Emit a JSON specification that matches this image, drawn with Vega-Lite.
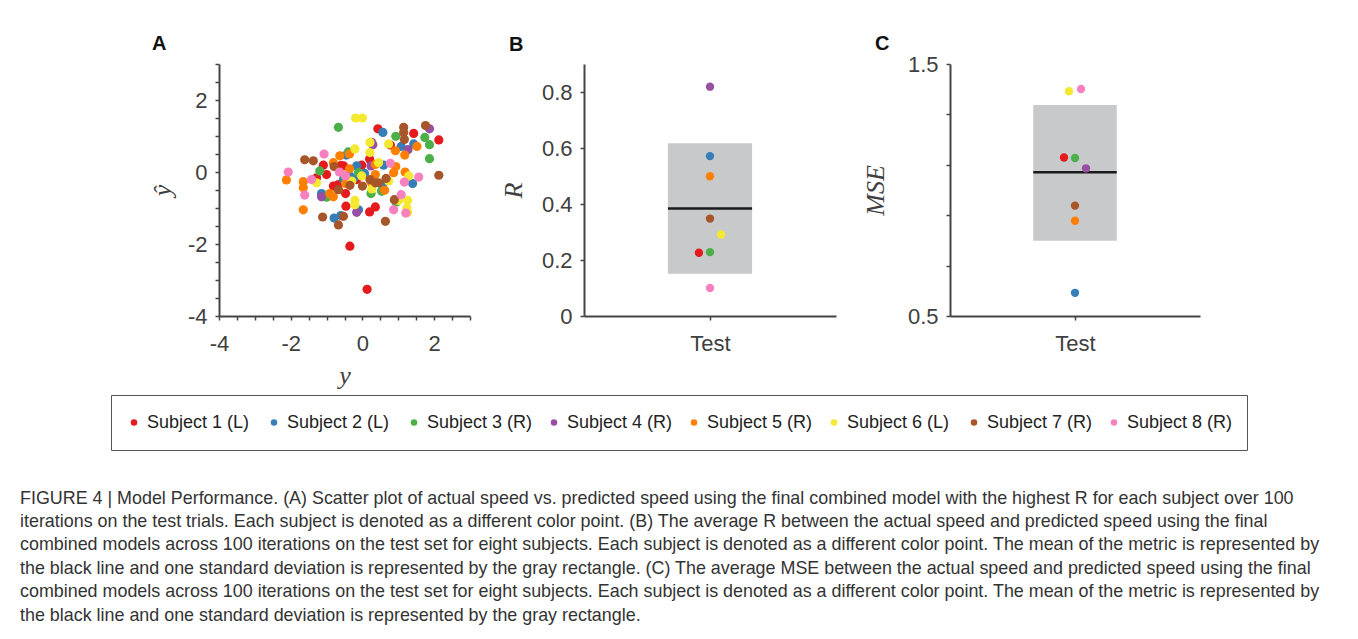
{
  "$schema": "https://vega.github.io/schema/vega-lite/v6.json",
  "background": "white",
  "padding": {"left": 20, "top": 34, "right": 20, "bottom": 10},
  "autosize": {"type": "pad"},
  "title": {
    "text": [
      "FIGURE 4 | Model Performance. (A) Scatter plot of actual speed vs. predicted speed using the final combined model with the highest R for each subject over 100",
      "iterations on the test trials. Each subject is denoted as a different color point. (B) The average R between the actual speed and predicted speed using the final",
      "combined models across 100 iterations on the test set for eight subjects. Each subject is denoted as a different color point. The mean of the metric is represented by",
      "the black line and one standard deviation is represented by the gray rectangle. (C) The average MSE between the actual speed and predicted speed using the final",
      "combined models across 100 iterations on the test set for eight subjects. Each subject is denoted as a different color point. The mean of the metric is represented by",
      "the black line and one standard deviation is represented by the gray rectangle."
    ],
    "orient": "bottom",
    "anchor": "start",
    "frame": "group",
    "dx": -199,
    "offset": 39,
    "font": "Liberation Sans",
    "fontSize": 17.9,
    "fontWeight": "normal",
    "color": "#333333",
    "lineHeight": 23.4,
    "baseline": "top"
  },
  "datasets": {
    "scatter": [
      {"subject": "Subject 1 (L)", "actual": 0.43, "predicted": 1.2},
      {"subject": "Subject 1 (L)", "actual": 1.43, "predicted": 1.07},
      {"subject": "Subject 1 (L)", "actual": 2.13, "predicted": 0.89},
      {"subject": "Subject 1 (L)", "actual": 0.78, "predicted": 0.75},
      {"subject": "Subject 1 (L)", "actual": 0.2, "predicted": 0.36},
      {"subject": "Subject 1 (L)", "actual": -0.02, "predicted": 0.19},
      {"subject": "Subject 1 (L)", "actual": -1.09, "predicted": 0.19},
      {"subject": "Subject 1 (L)", "actual": -0.53, "predicted": 0.17},
      {"subject": "Subject 1 (L)", "actual": -1.0, "predicted": -0.07},
      {"subject": "Subject 1 (L)", "actual": -1.28, "predicted": -0.16},
      {"subject": "Subject 1 (L)", "actual": -0.16, "predicted": -0.21},
      {"subject": "Subject 1 (L)", "actual": -0.81, "predicted": -0.39},
      {"subject": "Subject 1 (L)", "actual": -0.47, "predicted": -0.6},
      {"subject": "Subject 1 (L)", "actual": -0.46, "predicted": -0.95},
      {"subject": "Subject 1 (L)", "actual": 0.36, "predicted": -0.97},
      {"subject": "Subject 1 (L)", "actual": 0.2, "predicted": -1.11},
      {"subject": "Subject 1 (L)", "actual": -0.35, "predicted": -2.06},
      {"subject": "Subject 1 (L)", "actual": 0.13, "predicted": -3.26},
      {"subject": "Subject 1 (L)", "actual": -0.67, "predicted": -0.35},
      {"subject": "Subject 1 (L)", "actual": -0.6, "predicted": 0.18},
      {"subject": "Subject 2 (L)", "actual": 0.57, "predicted": 1.1},
      {"subject": "Subject 2 (L)", "actual": 1.08, "predicted": 0.71},
      {"subject": "Subject 2 (L)", "actual": 1.43, "predicted": 0.78},
      {"subject": "Subject 2 (L)", "actual": -0.45, "predicted": 0.47},
      {"subject": "Subject 2 (L)", "actual": -0.16, "predicted": 0.17},
      {"subject": "Subject 2 (L)", "actual": 0.59, "predicted": 0.19},
      {"subject": "Subject 2 (L)", "actual": 0.06, "predicted": -0.04},
      {"subject": "Subject 2 (L)", "actual": -0.35, "predicted": -0.11},
      {"subject": "Subject 2 (L)", "actual": -0.25, "predicted": -0.19},
      {"subject": "Subject 2 (L)", "actual": 0.56, "predicted": -0.35},
      {"subject": "Subject 2 (L)", "actual": 1.4, "predicted": -0.32},
      {"subject": "Subject 2 (L)", "actual": -1.14, "predicted": -0.6},
      {"subject": "Subject 2 (L)", "actual": -0.11, "predicted": -1.05},
      {"subject": "Subject 2 (L)", "actual": -0.79, "predicted": -1.28},
      {"subject": "Subject 2 (L)", "actual": -0.6, "predicted": -1.21},
      {"subject": "Subject 2 (L)", "actual": 0.54, "predicted": -0.53},
      {"subject": "Subject 2 (L)", "actual": -0.53, "predicted": -0.21},
      {"subject": "Subject 3 (R)", "actual": -0.67, "predicted": 1.24},
      {"subject": "Subject 3 (R)", "actual": 0.93, "predicted": 0.99},
      {"subject": "Subject 3 (R)", "actual": 1.74, "predicted": 0.96},
      {"subject": "Subject 3 (R)", "actual": 1.87, "predicted": 0.76},
      {"subject": "Subject 3 (R)", "actual": 1.87, "predicted": 0.37},
      {"subject": "Subject 3 (R)", "actual": -0.39, "predicted": 0.56},
      {"subject": "Subject 3 (R)", "actual": -1.19, "predicted": 0.03},
      {"subject": "Subject 3 (R)", "actual": 0.24, "predicted": -0.6},
      {"subject": "Subject 3 (R)", "actual": 0.54, "predicted": -0.53},
      {"subject": "Subject 3 (R)", "actual": 0.94, "predicted": -0.84},
      {"subject": "Subject 3 (R)", "actual": -1.0, "predicted": -0.7},
      {"subject": "Subject 3 (R)", "actual": -0.11, "predicted": -0.02},
      {"subject": "Subject 3 (R)", "actual": -0.49, "predicted": -0.11},
      {"subject": "Subject 4 (R)", "actual": 1.87, "predicted": 1.2},
      {"subject": "Subject 4 (R)", "actual": 0.29, "predicted": 0.76},
      {"subject": "Subject 4 (R)", "actual": 1.27, "predicted": 0.62},
      {"subject": "Subject 4 (R)", "actual": 0.24, "predicted": 0.17},
      {"subject": "Subject 4 (R)", "actual": -1.14, "predicted": -0.69},
      {"subject": "Subject 4 (R)", "actual": -0.16, "predicted": -1.12},
      {"subject": "Subject 4 (R)", "actual": 0.26, "predicted": 0.82},
      {"subject": "Subject 5 (R)", "actual": 1.52, "predicted": 0.71},
      {"subject": "Subject 5 (R)", "actual": 0.92, "predicted": 0.59},
      {"subject": "Subject 5 (R)", "actual": 1.18, "predicted": 0.47},
      {"subject": "Subject 5 (R)", "actual": -0.63, "predicted": 0.45},
      {"subject": "Subject 5 (R)", "actual": -0.36, "predicted": 0.5},
      {"subject": "Subject 5 (R)", "actual": -0.81, "predicted": 0.26},
      {"subject": "Subject 5 (R)", "actual": -0.36, "predicted": 0.09},
      {"subject": "Subject 5 (R)", "actual": 0.36, "predicted": 0.21},
      {"subject": "Subject 5 (R)", "actual": 0.93, "predicted": 0.15},
      {"subject": "Subject 5 (R)", "actual": 0.87, "predicted": -0.02},
      {"subject": "Subject 5 (R)", "actual": 1.19, "predicted": 0.0},
      {"subject": "Subject 5 (R)", "actual": 0.36, "predicted": -0.07},
      {"subject": "Subject 5 (R)", "actual": -1.65, "predicted": -0.27},
      {"subject": "Subject 5 (R)", "actual": -1.65, "predicted": -0.44},
      {"subject": "Subject 5 (R)", "actual": -2.12, "predicted": -0.22},
      {"subject": "Subject 5 (R)", "actual": -0.47, "predicted": -0.32},
      {"subject": "Subject 5 (R)", "actual": 0.62, "predicted": -0.51},
      {"subject": "Subject 5 (R)", "actual": -0.91, "predicted": -0.6},
      {"subject": "Subject 5 (R)", "actual": -0.81, "predicted": -0.69},
      {"subject": "Subject 5 (R)", "actual": -1.65, "predicted": -1.05},
      {"subject": "Subject 5 (R)", "actual": 0.24, "predicted": -0.28},
      {"subject": "Subject 6 (L)", "actual": -0.19, "predicted": 1.5},
      {"subject": "Subject 6 (L)", "actual": 0.0, "predicted": 1.5},
      {"subject": "Subject 6 (L)", "actual": 0.21, "predicted": 0.82},
      {"subject": "Subject 6 (L)", "actual": -0.21, "predicted": 0.64},
      {"subject": "Subject 6 (L)", "actual": 0.73, "predicted": 0.78},
      {"subject": "Subject 6 (L)", "actual": 0.21, "predicted": 0.54},
      {"subject": "Subject 6 (L)", "actual": 0.45, "predicted": 0.26},
      {"subject": "Subject 6 (L)", "actual": -1.28, "predicted": -0.3},
      {"subject": "Subject 6 (L)", "actual": 0.26, "predicted": -0.47},
      {"subject": "Subject 6 (L)", "actual": 0.73, "predicted": -0.25},
      {"subject": "Subject 6 (L)", "actual": 1.26, "predicted": -0.79},
      {"subject": "Subject 6 (L)", "actual": 1.01, "predicted": -0.79},
      {"subject": "Subject 6 (L)", "actual": 1.24, "predicted": -1.0},
      {"subject": "Subject 6 (L)", "actual": 1.26, "predicted": -1.12},
      {"subject": "Subject 6 (L)", "actual": -0.21, "predicted": -0.79},
      {"subject": "Subject 6 (L)", "actual": -0.21, "predicted": -0.91},
      {"subject": "Subject 6 (L)", "actual": 1.29, "predicted": -0.11},
      {"subject": "Subject 6 (L)", "actual": -0.02, "predicted": -0.11},
      {"subject": "Subject 6 (L)", "actual": -0.3, "predicted": -0.25},
      {"subject": "Subject 7 (R)", "actual": 1.76, "predicted": 1.29},
      {"subject": "Subject 7 (R)", "actual": 1.15, "predicted": 1.24},
      {"subject": "Subject 7 (R)", "actual": 1.15, "predicted": 1.1},
      {"subject": "Subject 7 (R)", "actual": 1.17, "predicted": 0.9},
      {"subject": "Subject 7 (R)", "actual": -1.61, "predicted": 0.34},
      {"subject": "Subject 7 (R)", "actual": -1.37, "predicted": 0.31},
      {"subject": "Subject 7 (R)", "actual": -0.79, "predicted": 0.15},
      {"subject": "Subject 7 (R)", "actual": 0.21, "predicted": -0.21},
      {"subject": "Subject 7 (R)", "actual": 0.36, "predicted": -0.3},
      {"subject": "Subject 7 (R)", "actual": 0.66, "predicted": -0.18},
      {"subject": "Subject 7 (R)", "actual": 0.0, "predicted": -0.39},
      {"subject": "Subject 7 (R)", "actual": -0.35, "predicted": -0.37},
      {"subject": "Subject 7 (R)", "actual": -0.67, "predicted": -0.49},
      {"subject": "Subject 7 (R)", "actual": 2.13, "predicted": -0.09},
      {"subject": "Subject 7 (R)", "actual": 0.89, "predicted": -0.77},
      {"subject": "Subject 7 (R)", "actual": 0.64, "predicted": -1.37},
      {"subject": "Subject 7 (R)", "actual": -1.11, "predicted": -1.25},
      {"subject": "Subject 7 (R)", "actual": -0.53, "predicted": -1.23},
      {"subject": "Subject 7 (R)", "actual": -0.67, "predicted": -1.47},
      {"subject": "Subject 7 (R)", "actual": 0.45, "predicted": -0.3},
      {"subject": "Subject 8 (R)", "actual": -2.07, "predicted": 0.0},
      {"subject": "Subject 8 (R)", "actual": -1.07, "predicted": 0.5},
      {"subject": "Subject 8 (R)", "actual": -1.61, "predicted": -0.64},
      {"subject": "Subject 8 (R)", "actual": 0.78, "predicted": 0.24},
      {"subject": "Subject 8 (R)", "actual": 1.57, "predicted": -0.14},
      {"subject": "Subject 8 (R)", "actual": 1.17, "predicted": -0.28},
      {"subject": "Subject 8 (R)", "actual": 1.08, "predicted": -0.63},
      {"subject": "Subject 8 (R)", "actual": 0.87, "predicted": -1.05},
      {"subject": "Subject 8 (R)", "actual": 1.21, "predicted": -1.14},
      {"subject": "Subject 8 (R)", "actual": -0.64, "predicted": 0.0},
      {"subject": "Subject 8 (R)", "actual": -1.42, "predicted": -0.21},
      {"subject": "Subject 8 (R)", "actual": -0.47, "predicted": -0.11}
    ],
    "rvals": [
      {"subject": "Subject 1 (L)", "x": 0.956, "R": 0.226},
      {"subject": "Subject 2 (L)", "x": 1.0, "R": 0.571},
      {"subject": "Subject 3 (R)", "x": 1.0, "R": 0.228},
      {"subject": "Subject 4 (R)", "x": 1.0, "R": 0.819},
      {"subject": "Subject 5 (R)", "x": 1.0, "R": 0.499},
      {"subject": "Subject 6 (L)", "x": 1.044, "R": 0.291},
      {"subject": "Subject 7 (R)", "x": 1.0, "R": 0.348},
      {"subject": "Subject 8 (R)", "x": 1.0, "R": 0.1}
    ],
    "rstats": [{"x1": 0.833, "x2": 1.167, "lo": 0.151, "hi": 0.617, "mean": 0.384}],
    "msevals": [
      {"subject": "Subject 1 (L)", "x": 0.956, "MSE": 1.129},
      {"subject": "Subject 2 (L)", "x": 1.0, "MSE": 0.592},
      {"subject": "Subject 3 (R)", "x": 1.0, "MSE": 1.127},
      {"subject": "Subject 4 (R)", "x": 1.044, "MSE": 1.086},
      {"subject": "Subject 5 (R)", "x": 1.0, "MSE": 0.878},
      {"subject": "Subject 6 (L)", "x": 0.976, "MSE": 1.392},
      {"subject": "Subject 7 (R)", "x": 1.0, "MSE": 0.938},
      {"subject": "Subject 8 (R)", "x": 1.024, "MSE": 1.401}
    ],
    "msestats": [{"x1": 0.833, "x2": 1.167, "lo": 0.799, "hi": 1.337, "mean": 1.07}]
  },
  "bounds": "flush",
  "spacing": 114,
  "hconcat": [
    {
      "width": 251,
      "height": 252,
      "title": {"text": "A", "anchor": "start", "frame": "group", "dx": -67, "offset": 9, "fontSize": 20, "fontWeight": "bold", "font": "Liberation Sans", "color": "#111111"},
      "data": {"name": "scatter"},
      "mark": {"type": "point", "filled": true, "opacity": 1, "size": 85, "shape": "circle"},
      "encoding": {
        "x": {"field": "actual", "type": "quantitative", "title": "y",
          "scale": {"domain": [-4, 3], "nice": false, "zero": false},
          "axis": {"values": [-4, -3.5, -3, -2.5, -2, -1.5, -1, -0.5, 0, 0.5, 1, 1.5, 2, 2.5, 3],
                   "labelExpr": "round(datum.value*2) % 4 == 0 ? '' + datum.value : ''", "labelPadding": 13, "titlePadding": 8}},
        "y": {"field": "predicted", "type": "quantitative", "title": "ŷ",
          "scale": {"domain": [-4, 3], "nice": false, "zero": false},
          "axis": {"values": [-4, -3.5, -3, -2.5, -2, -1.5, -1, -0.5, 0, 0.5, 1, 1.5, 2, 2.5, 3],
                   "labelExpr": "round(datum.value*2) % 4 == 0 ? '' + datum.value : ''", "labelPadding": 8, "titlePadding": 12}},
        "color": {"field": "subject", "type": "nominal",
          "scale": {"domain": ["Subject 1 (L)", "Subject 2 (L)", "Subject 3 (R)", "Subject 4 (R)", "Subject 5 (R)", "Subject 6 (L)", "Subject 7 (R)", "Subject 8 (R)"],
                    "range": ["#e41a1c", "#377eb8", "#4daf4a", "#984ea3", "#ff7f00", "#f5e831", "#a65628", "#f781bf"]},
          "legend": {"orient": "none", "legendX": -108, "legendY": 331, "direction": "horizontal", "columns": 8, "title": null,
                     "strokeColor": "#555555", "padding": 14, "labelFontSize": 18, "labelColor": "#222222", "labelFont": "Liberation Sans",
                     "symbolSize": 42, "symbolType": "circle", "columnPadding": 12, "labelOffset": 4, "gridAlign": "all", "clipHeight": 27,
                     "encode": {"legend": {"update": {"strokeWidth": {"value": 2}}}}}}
      }
    },
    {
      "width": 252,
      "height": 252,
      "title": {"text": "B", "anchor": "start", "frame": "group", "dx": -75, "offset": 9, "fontSize": 20, "fontWeight": "bold", "font": "Liberation Sans", "color": "#111111"},
      "layer": [
        {
          "data": {"name": "rstats"},
          "mark": {"type": "rect", "color": "#c8c9cb"},
          "encoding": {
            "x": {"field": "x1", "type": "quantitative"},
            "x2": {"field": "x2"},
            "y": {"field": "lo", "type": "quantitative"},
            "y2": {"field": "hi"}
          }
        },
        {
          "data": {"name": "rstats"},
          "mark": {"type": "rule", "color": "#1a1a1a", "strokeWidth": 2.5},
          "encoding": {
            "x": {"field": "x1", "type": "quantitative"},
            "x2": {"field": "x2"},
            "y": {"field": "mean", "type": "quantitative"}
          }
        },
        {
          "data": {"name": "rvals"},
          "mark": {"type": "point", "filled": true, "opacity": 1, "size": 70, "shape": "circle"},
          "encoding": {
            "x": {"field": "x", "type": "quantitative", "title": null,
              "scale": {"domain": [0.5, 1.5], "nice": false, "zero": false},
              "axis": {"values": [1], "labelExpr": "'Test'", "labelPadding": 13}},
            "y": {"field": "R", "type": "quantitative", "title": "R",
              "scale": {"domain": [0, 0.9], "nice": false, "zero": false},
              "axis": {"values": [0, 0.05, 0.1, 0.15, 0.2, 0.25, 0.3, 0.35, 0.4, 0.45, 0.5, 0.55, 0.6, 0.65, 0.7, 0.75, 0.8, 0.85, 0.9],
                       "labelExpr": "round(datum.value*20) % 4 == 0 ? '' + datum.value : ''", "labelPadding": 8, "titlePadding": 15}},
            "color": {"field": "subject", "type": "nominal"}
          }
        }
      ]
    },
    {
      "width": 250,
      "height": 252,
      "title": {"text": "C", "anchor": "start", "frame": "group", "dx": -75, "offset": -1, "fontSize": 20, "fontWeight": "bold", "font": "Liberation Sans", "color": "#111111"},
      "layer": [
        {
          "data": {"name": "msestats"},
          "mark": {"type": "rect", "color": "#c8c9cb"},
          "encoding": {
            "x": {"field": "x1", "type": "quantitative"},
            "x2": {"field": "x2"},
            "y": {"field": "lo", "type": "quantitative"},
            "y2": {"field": "hi"}
          }
        },
        {
          "data": {"name": "msestats"},
          "mark": {"type": "rule", "color": "#1a1a1a", "strokeWidth": 2.5},
          "encoding": {
            "x": {"field": "x1", "type": "quantitative"},
            "x2": {"field": "x2"},
            "y": {"field": "mean", "type": "quantitative"}
          }
        },
        {
          "data": {"name": "msevals"},
          "mark": {"type": "point", "filled": true, "opacity": 1, "size": 70, "shape": "circle"},
          "encoding": {
            "x": {"field": "x", "type": "quantitative", "title": null,
              "scale": {"domain": [0.5, 1.5], "nice": false, "zero": false},
              "axis": {"values": [1], "labelExpr": "'Test'", "labelPadding": 13}},
            "y": {"field": "MSE", "type": "quantitative", "title": "MSE",
              "scale": {"domain": [0.5, 1.5], "nice": false, "zero": false},
              "axis": {"values": [0.5, 0.6, 0.7, 0.8, 0.9, 1, 1.1, 1.2, 1.3, 1.4, 1.5],
                       "labelExpr": "round(datum.value*10) % 5 == 0 ? '' + datum.value : ''", "labelPadding": 8, "titlePadding": 19}},
            "color": {"field": "subject", "type": "nominal"}
          }
        }
      ]
    }
  ],
  "config": {
    "view": {"stroke": null},
    "font": "Liberation Sans",
    "axis": {
      "grid": false,
      "labelFlush": false,
      "domainColor": "#444444",
      "domainWidth": 2,
      "tickColor": "#444444",
      "tickWidth": 1.5,
      "tickSize": 4,
      "labelColor": "#404040",
      "labelFont": "Liberation Sans",
      "labelFontSize": 22,
      "titleFont": "Liberation Serif",
      "titleFontStyle": "italic",
      "titleFontWeight": "normal",
      "titleFontSize": 26,
      "titleColor": "#404040"
    }
  }
}
